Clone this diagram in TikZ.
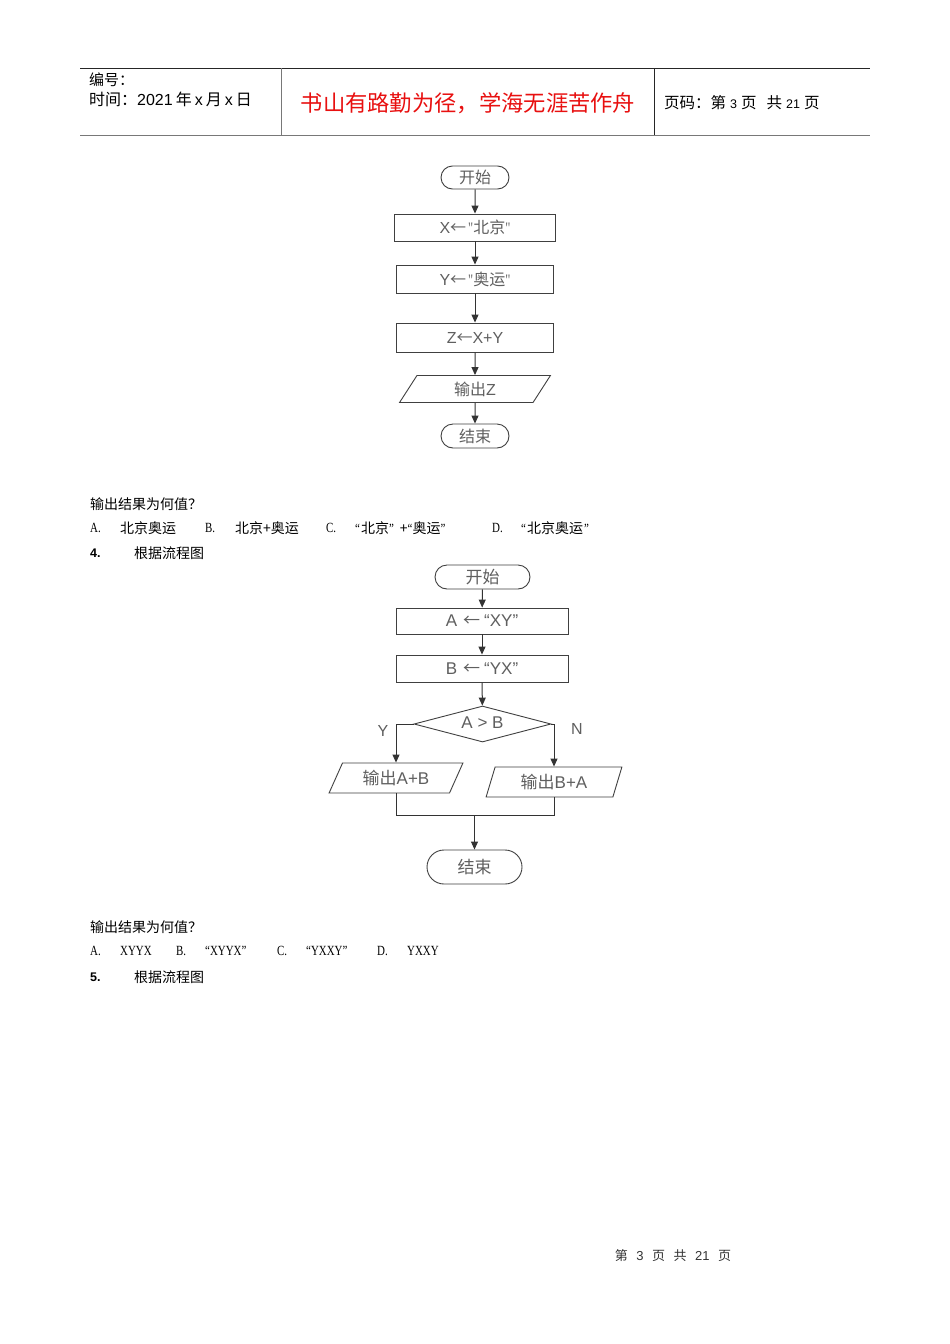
\documentclass[tikz,border=0pt]{standalone}
\usepackage{fontspec}
\setmainfont{Liberation Sans}
\newfontfamily\cjk{Noto Sans CJK SC}
\newfontfamily\ser{Liberation Serif}[FakeStretch=0.78]
\usepackage{xcolor}
\usetikzlibrary{arrows.meta,shapes.geometric,shapes.misc}
\definecolor{headred}{RGB}{232,16,16}
\definecolor{flowgray}{RGB}{95,95,95}
\definecolor{rulegray}{RGB}{120,120,120}
\newcommand{\cn}[1]{{\cjk #1}}
\newcommand{\sq}[1]{{\ser #1}}

\begin{document}
\begin{tikzpicture}[x=1pt,y=-1pt,
    txt/.style={anchor=west, inner sep=0pt, font=\cjk\fontsize{14}{16}\selectfont},
    opt/.style={anchor=west, inner sep=0pt, font=\ser\fontsize{14}{16}\selectfont},
    line/.style={draw=black!80, line width=1pt},
    arr/.style={line, -{Triangle[length=8pt,width=7pt]}},
    shp/.style={draw=black!75, line width=0.9pt, inner sep=0pt, text=flowgray},
    term/.style={shp, rounded rectangle},
    proc/.style={shp, rectangle},
    io/.style={shp, trapezium, trapezium stretches=true},
    cond/.style={shp, diamond, aspect=3.8}
  ]
  \useasboundingbox[fill=white] (0,0) rectangle (950,1344);

  % header table
  \draw[black!85, line width=0.8pt] (80,68) -- (870,68);
  \draw[rulegray, line width=1.6pt] (80,135.5) -- (870,135.5);
  \draw[rulegray, line width=0.8pt] (281,68) -- (281,135);
  \draw[black!85, line width=0.8pt] (654,68) -- (654,135);
  \node[txt, font=\cjk\fontsize{15}{16}\selectfont] (hnum) at (89,80) {编号：};
  \node[txt, font=\fontsize{16}{18}\selectfont] (hdate) at (89,99) {\cn{时间：}2021\hspace{3pt}\cn{年}\hspace{3pt}x\hspace{3pt}\cn{月}\hspace{3pt}x\hspace{3pt}\cn{日}};
  \node[inner sep=0pt, text=headred, font=\cjk\fontsize{22.3}{24}\selectfont] (motto) at (468,103) {书山有路勤为径，学海无涯苦作舟};
  \node[txt, font=\cjk\fontsize{15.5}{17}\selectfont] (hpage) at (664,103) {页码：第\hspace{4pt}{\rmfamily\fontsize{12.5}{14}\selectfont 3}\hspace{4pt}页\hspace{10pt}共\hspace{4pt}{\rmfamily\fontsize{12.5}{14}\selectfont 21}\hspace{4pt}页};

  % flowchart 1
  \begin{scope}[every node/.append style={font=\fontsize{16}{18}\selectfont}]
    \node[term, minimum width=68, minimum height=23] (s1) at (475,177.5) {\cn{开始}};
    \node[proc, minimum width=161, minimum height=27] (x1) at (475,227.5) {X\cn{←}\hspace{2pt}\sq{"}\cn{北京}\sq{"}};
    \node[proc, minimum width=157, minimum height=28] (y1) at (475,279) {Y\cn{←}\hspace{2pt}\sq{"}\cn{奥运}\sq{"}};
    \node[proc, minimum width=157, minimum height=29] (z1) at (475,337.5) {Z\cn{←}X+Y};
    \node[io, minimum width=151, minimum height=27, trapezium left angle=67, trapezium right angle=113] (o1) at (475,389) {\cn{输出}Z};
    \node[term, minimum width=68, minimum height=24] (e1) at (475,436) {\cn{结束}};
  \end{scope}
  \draw[arr] (s1) -- (x1);
  \draw[arr] (x1) -- (y1);
  \draw[arr] (y1) -- (z1);
  \draw[arr] (z1) -- (o1);
  \draw[arr] (o1) -- (e1);

  % question 3
  \node[txt] (q3) at (90,504) {输出结果为何值？};
  \node[opt] (q3a) at (90,528) {A.};
  \node[txt] (q3at) at (120,528) {北京奥运};
  \node[opt] (q3b) at (205,528) {B.};
  \node[txt] (q3bt) at (235,528) {北京+奥运};
  \node[opt] (q3c) at (326,528) {C.};
  \node[txt] (q3ct) at (355,528) {\sq{“}\hspace{1pt}北京\sq{”}\hspace{6pt}+\sq{“}奥运\sq{”}};
  \node[opt] (q3d) at (492,528) {D.};
  \node[txt] (q3dt) at (521,528) {\sq{“}\hspace{1pt}北京奥运\hspace{1pt}\sq{”}};
  \node[txt, font=\bfseries\fontsize{12.5}{15}\selectfont] (n4) at (90,553) {4.};
  \node[txt] (n4t) at (134,553) {根据流程图};

  % flowchart 2
  \begin{scope}[every node/.append style={font=\fontsize{17}{19}\selectfont}]
    \node[term, minimum width=95, minimum height=24] (s2) at (482.5,577) {\cn{开始}};
    \node[proc, minimum width=172, minimum height=26] (a2) at (482,621) {A\hspace{6pt}\cn{←}\hspace{4pt}“XY”};
    \node[proc, minimum width=172, minimum height=27] (b2) at (482,668.5) {B\hspace{6pt}\cn{←}\hspace{4pt}“YX”};
    \node[cond, minimum width=137, minimum height=36] (d2) at (482.5,724) {\raisebox{3pt}{A > B}};
    \node[io, minimum width=134, minimum height=30, trapezium left angle=62, trapezium right angle=118] (o2) at (396,778) {\cn{输出}A+B};
    \node[io, minimum width=136, minimum height=30, trapezium left angle=72, trapezium right angle=108] (o3) at (554,782) {\cn{输出}B+A};
    \node[term, minimum width=95, minimum height=34] (e2) at (474.5,867) {\cn{结束}};
    \node[inner sep=0pt, text=flowgray, font=\fontsize{16}{18}\selectfont] (ly) at (383,731) {Y};
    \node[inner sep=0pt, text=flowgray, font=\fontsize{16}{18}\selectfont] (ln) at (577,729) {N};
  \end{scope}
  \coordinate (m2) at (474.5,815);
  \draw[arr] (s2) -- (a2);
  \draw[arr] (a2) -- (b2);
  \draw[arr] (b2) -- (d2);
  \draw[arr] (d2.west) -| (o2.north);
  \draw[arr] (d2.east) -| (o3.north);
  \draw[line] (o2.south) |- (m2) -| (o3.south);
  \draw[arr] (m2) -- (e2);

  % question 4
  \node[txt] (q4) at (90,927) {输出结果为何值？};
  \node[opt] (q4a) at (90,951) {A.};
  \node[opt] (q4at) at (120,951) {XYYX};
  \node[opt] (q4b) at (176,951) {B.};
  \node[opt] (q4bt) at (205,951) {“XYYX”};
  \node[opt] (q4c) at (277,951) {C.};
  \node[opt] (q4ct) at (306,951) {“YXXY”};
  \node[opt] (q4d) at (377,951) {D.};
  \node[opt] (q4dt) at (407,951) {YXXY};
  \node[txt, font=\bfseries\fontsize{12.5}{15}\selectfont] (n5) at (90,977) {5.};
  \node[txt] (n5t) at (134,977) {根据流程图};

  % footer
  \node[inner sep=0pt, text=black!80, font=\fontsize{13}{15}\selectfont] (foot) at (673,1256) {\cn{第}\hspace{8.5pt}3\hspace{8.5pt}\cn{页}\hspace{8.5pt}\cn{共}\hspace{8.5pt}21\hspace{8.5pt}\cn{页}};
\end{tikzpicture}
\end{document}
